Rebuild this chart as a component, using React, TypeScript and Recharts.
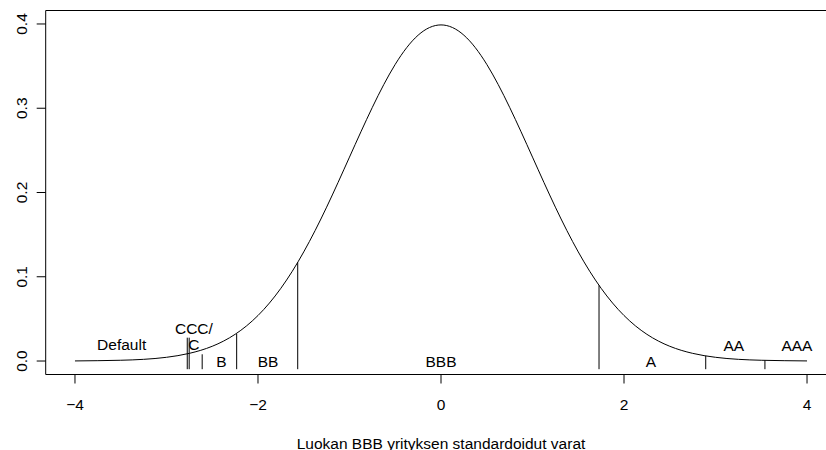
import React from "react";
import {
  ComposedChart,
  Line,
  XAxis,
  YAxis,
  ReferenceLine,
  ReferenceArea,
  Scatter,
} from "recharts";

// Standardised asset value (x) and density
const xs = [
  -4, -3.75, -3.5, -3.25, -3, -2.75, -2.5, -2.25, -2, -1.75, -1.5, -1.25, -1,
  -0.75, -0.5, -0.25, 0, 0.25, 0.5, 0.75, 1, 1.25, 1.5, 1.75, 2, 2.25, 2.5,
  2.75, 3, 3.25, 3.5, 3.75, 4,
];
const density = [
  0.0001, 0.0004, 0.0009, 0.002, 0.0044, 0.0091, 0.0175, 0.0317, 0.054,
  0.0863, 0.1295, 0.1826, 0.242, 0.3011, 0.3521, 0.3867, 0.3989, 0.3867,
  0.3521, 0.3011, 0.242, 0.1826, 0.1295, 0.0863, 0.054, 0.0317, 0.0175,
  0.0091, 0.0044, 0.002, 0.0009, 0.0004, 0.0001,
];

// Rating thresholds (vertical segments) and segment top heights
const thresholds = [-2.773, -2.752, -2.61, -2.233, -1.566, 1.727, 2.893, 3.54];
const thresholdTops = [0.0277, 0.0277, 0.008, 0.0322, 0.117, 0.0898, 0.0061, 0.0008];
const segmentBottom = -0.0097;

// Rating labels
const labelTexts = ["Default", "CCC/", "C", "B", "BB", "BBB", "A", "AA", "AAA"];
const labelX = [-3.49, -2.7, -2.7, -2.4, -1.89, 0, 2.295, 3.2, 3.89];
const labelY = [0.02, 0.0388, 0.02, 0, 0, 0, 0, 0.019, 0.019];

const xTicks = [-4, -2, 0, 2, 4];
const yTicks = [0, 0.1, 0.2, 0.3, 0.4];
const xDomain = [-4.32, 4.32];
const yDomain = [-0.016, 0.416];

const FONT = "'Liberation Sans', Arial, Helvetica, sans-serif";
const FS = 15.5;

const curveData = xs.map((x, i) => ({ x, d: density[i] }));
const labelData = labelTexts.map((t, i) => ({ x: labelX[i], y: labelY[i], t }));

const fmtX = (v: number) => String(v).replace("-", "\u2212");

const YTick = (props: any) => {
  const { y, payload } = props;
  const bx = 27.2;
  return (
    <g>
      <line x1={36.7} x2={45.7} y1={y} y2={y} stroke="#000" strokeWidth={1} />
      <text
        x={bx}
        y={y}
        transform={`rotate(-90 ${bx} ${y})`}
        textAnchor="middle"
        fontFamily={FONT}
        fontSize={FS}
        fill="#000"
      >
        {payload.value.toFixed(1)}
      </text>
    </g>
  );
};

const LabelShape = (props: any) => {
  const { cx, cy, payload } = props;
  return (
    <text
      x={cx}
      y={cy}
      textAnchor="middle"
      dominantBaseline="central"
      fontFamily={FONT}
      fontSize={FS}
      fill="#000"
    >
      {payload.t}
    </text>
  );
};

export default function App() {
  return (
    <div
      style={{
        position: "absolute",
        left: 0,
        top: 0,
        width: 826,
        height: 450,
        overflow: "hidden",
        background: "#fff",
      }}
    >
      <ComposedChart
        width={850}
        height={450}
        data={curveData}
        margin={{ top: 10.5, right: 13.7, bottom: 0, left: 0 }}
      >
        <XAxis
          dataKey="x"
          type="number"
          domain={xDomain}
          ticks={xTicks}
          allowDataOverflow
          height={75.5}
          axisLine={false}
          tickLine={{ stroke: "#000", strokeWidth: 1 }}
          tickSize={9}
          tickMargin={15}
          tickFormatter={fmtX}
          tick={{ fontFamily: FONT, fontSize: FS, fill: "#000" }}
          label={{
            content: (p: any) => {
              const vb = p.viewBox;
              return (
                <text
                  x={vb.x + vb.width / 2}
                  y={449}
                  textAnchor="middle"
                  fontFamily={FONT}
                  fontSize={FS}
                  fill="#000"
                >
                  Luokan BBB yrityksen standardoidut varat
                </text>
              );
            },
          }}
        />
        <YAxis
          type="number"
          domain={yDomain}
          ticks={yTicks}
          allowDataOverflow
          width={45.7}
          axisLine={false}
          tickLine={false}
          tick={<YTick />}
        />
        <ReferenceArea
          x1={xDomain[0]}
          x2={xDomain[1]}
          y1={yDomain[0]}
          y2={yDomain[1]}
          fill="none"
          stroke="#000"
          strokeWidth={1}
          fillOpacity={0}
        />
        {thresholds.map((t, i) => (
          <ReferenceLine
            key={i}
            segment={[
              { x: t, y: segmentBottom },
              { x: t, y: thresholdTops[i] },
            ]}
            stroke="#000"
            strokeWidth={1}
          />
        ))}
        <Line
          dataKey="d"
          type="natural"
          stroke="#000"
          strokeWidth={1}
          dot={false}
          isAnimationActive={false}
        />
        <Scatter
          data={labelData}
          dataKey="y"
          shape={<LabelShape />}
          isAnimationActive={false}
        />
      </ComposedChart>
    </div>
  );
}
